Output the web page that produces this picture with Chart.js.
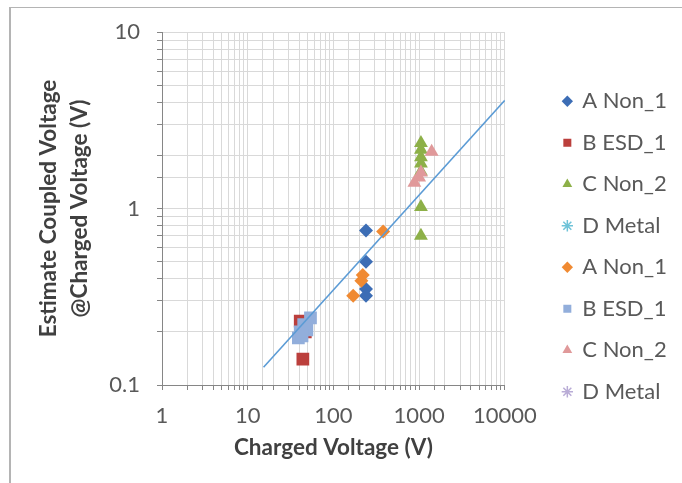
<!DOCTYPE html>
<html>
<head>
<meta charset="utf-8">
<script src="https://cdn.jsdelivr.net/npm/chart.js@4"></script>
<style>
  body { margin: 0; background: #fff; }
  #wrap { position: relative; width: 682px; height: 483px; overflow: hidden; }
  #frame { position: absolute; left: 9px; top: 7px; width: 700px; height: 500px;
           border-left: 2px solid #b4b4b4; border-top: 1px solid #b4b4b4; }
  canvas { position: absolute; left: 0; top: 0; }
</style>
</head>
<body>
<div id="wrap">
  <div id="frame"></div>
  <canvas id="chart" width="682" height="483"></canvas>
</div>
<script>
// values (log-log)
const seriesNames = ["A Non_1", "B ESD_1", "C Non_2", "D Metal",
                     "A Non_1", "B ESD_1", "C Non_2", "D Metal"];

const aNon1X = [240, 240, 240, 240];
const aNon1Y = [0.75, 0.5, 0.35, 0.32];
const bEsd1X = [41, 47, 44];
const bEsd1Y = [0.23, 0.2, 0.14];
const cNon2X = [1050, 1050, 1050, 1050, 1050, 1050, 1050];
const cNon2Y = [2.35, 2.15, 1.95, 1.8, 1.62, 1.02, 0.7];
const dMetalX = [];
const dMetalY = [];
const aNon1bX = [380, 220, 212, 170];
const aNon1bY = [0.74, 0.42, 0.39, 0.32];
const bEsd1bX = [54, 45, 49, 41, 39, 43];
const bEsd1bY = [0.24, 0.22, 0.205, 0.2, 0.185, 0.19];
const cNon2bX = [1400, 1050, 1000, 880];
const cNon2bY = [2.1, 1.6, 1.5, 1.4];
const dMetalbX = [];
const dMetalbY = [];

const trendX = [15.3, 10000];
const trendY = [0.126, 4.1];

const xTickValues = [1, 10, 100, 1000, 10000];
const xTickLabels = ["1", "10", "100", "1000", "10000"];
const yTickValues = [0.1, 1, 10];
const yTickLabels = ["0.1", "1", "10"];

const xs = [aNon1X, bEsd1X, cNon2X, dMetalX, aNon1bX, bEsd1bX, cNon2bX, dMetalbX];
const ys = [aNon1Y, bEsd1Y, cNon2Y, dMetalY, aNon1bY, bEsd1bY, cNon2bY, dMetalbY];

const colors = ["#3c6db5", "#bb3f3c", "#8db048", "#6fc3d8",
                "#f08a32", "#92aedb", "#e0999a", "#b9acd6"];
const shapes = ["rectRot", "rect", "triangle", "star",
                "rectRot", "rect", "triangle", "star"];
const radii = [7, 9, 8, 6, 7, 9, 8, 6];

const toPoints = (px, py) => px.map((x, i) => ({ x: x, y: py[i] }));
const pickLabel = (v, vals, labels) => {
  const i = vals.findIndex((t) => Math.abs(t - v) < t * 1e-6);
  return i >= 0 ? labels[i] : "";
};

const datasets = seriesNames.map((name, i) => ({
  label: name,
  data: toPoints(xs[i], ys[i]),
  pointStyle: shapes[i],
  pointRadius: radii[i],
  backgroundColor: colors[i],
  borderColor: colors[i],
  borderWidth: shapes[i] == "star" ? 1.5 : 0,
  showLine: false,
  order: -i,
}));

datasets.push({
  label: "trend",
  data: toPoints(trendX, trendY),
  showLine: true,
  borderColor: "#5b9bd5",
  borderWidth: 1.6,
  pointRadius: 0,
  order: -20,
});

const font = "Lato, 'Open Sans', sans-serif";
const textColor = "#595959";
const legendExtra = 30; // widen legend box so the labels are not clipped

const widenLegend = {
  id: "widenLegend",
  afterInit(chart) {
    const legend = chart.legend;
    if (!legend) return;
    const fit = legend.fit;
    legend.fit = function () {
      fit.call(this);
      this.width += legendExtra;
    };
  },
};

new Chart(document.getElementById("chart"), {
  type: "scatter",
  data: { datasets: datasets },
  plugins: [widenLegend],
  options: {
    responsive: false,
    animation: false,
    layout: { padding: { top: 32, left: 33, right: 0, bottom: 22 } },
    plugins: {
      tooltip: { enabled: false },
      legend: {
        position: "right",
        align: "center",
        labels: {
          usePointStyle: true,
          boxWidth: 8,
          boxHeight: 8,
          padding: 19.5,
          color: textColor,
          font: { family: font, size: 22 },
          filter: (item) => item.datasetIndex < 8,
          sort: (a, b) => a.datasetIndex - b.datasetIndex,
        },
      },
    },
    scales: {
      x: {
        type: "logarithmic",
        min: 1,
        max: 10000,
        border: { color: "#868686", width: 1 },
        grid: { color: "#d9d9d9", tickLength: 5, tickColor: "#868686" },
        ticks: {
          autoSkip: false,
          maxRotation: 0,
          padding: 13,
          color: textColor,
          font: { family: font, size: 22 },
          callback: (v) => pickLabel(v, xTickValues, xTickLabels),
        },
        title: {
          display: true,
          text: "Charged Voltage (V)",
          color: "#404040",
          font: { family: font, size: 22.5, weight: "bold" },
          padding: { top: 4, bottom: 0 },
        },
        afterFit: (scale) => { scale.height = 461 - 385; },
      },
      y: {
        type: "logarithmic",
        min: 0.1,
        max: 10,
        border: { color: "#868686", width: 1 },
        grid: { color: "#d9d9d9", tickLength: 5, tickColor: "#868686" },
        ticks: {
          autoSkip: false,
          padding: 17,
          color: textColor,
          font: { family: font, size: 22 },
          callback: (v) => pickLabel(v, yTickValues, yTickLabels),
        },
        title: {
          display: true,
          text: ["Estimate Coupled Voltage", "@Charged Voltage (V)"],
          color: "#404040",
          font: { family: font, size: 22.5, weight: "bold", lineHeight: 1.38 },
          padding: { top: 0, bottom: 0 },
        },
        afterFit: (scale) => { scale.width = 162 - 33; },
      },
      gap: {
        type: "linear",
        position: "right",
        display: true,
        grid: { display: false },
        border: { display: false },
        ticks: { display: false },
        afterFit: (scale) => { scale.width = 39; },
      },
    },
  },
});
</script>
</body>
</html>
